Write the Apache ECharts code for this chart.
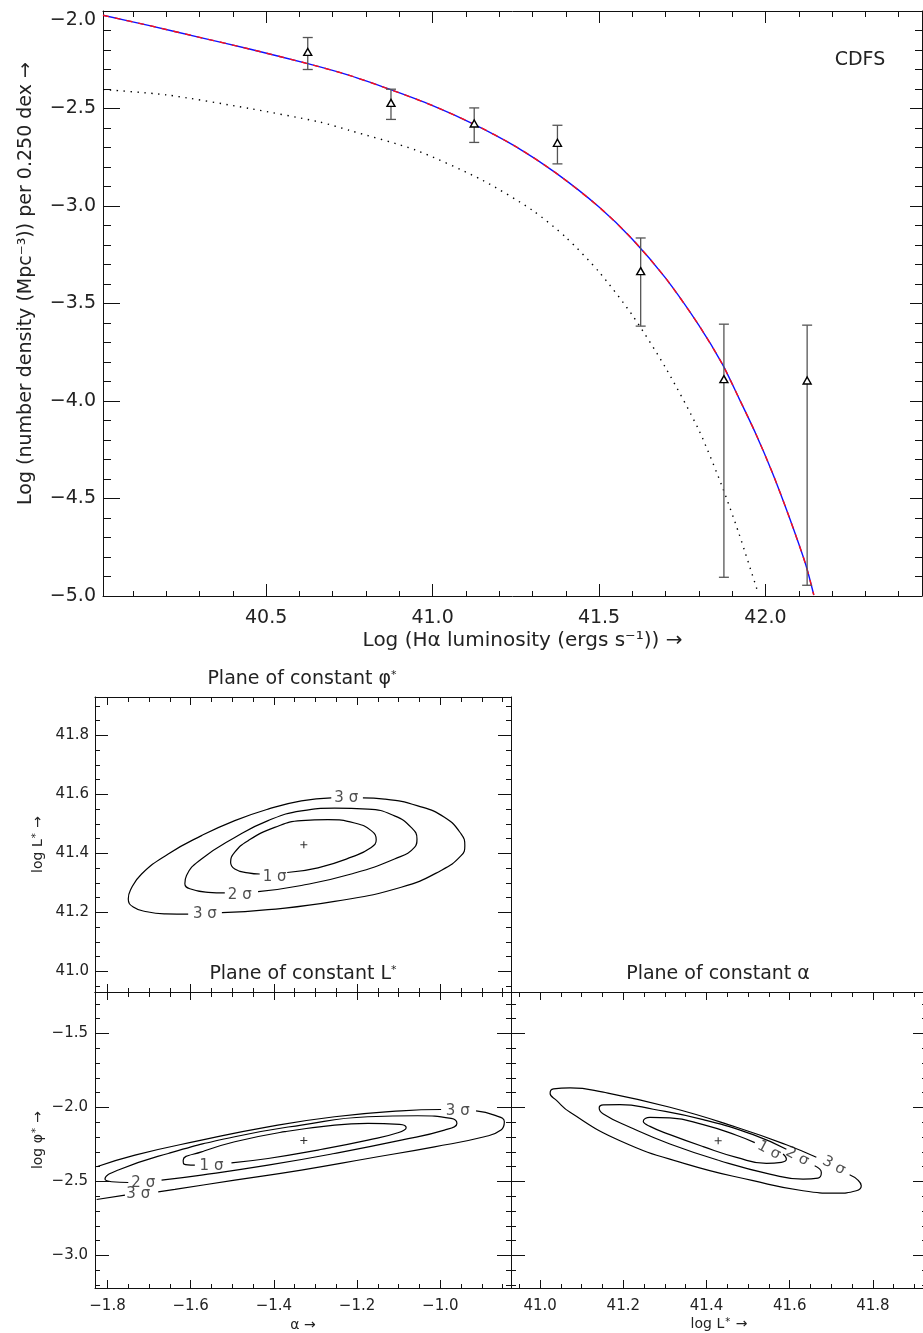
<!DOCTYPE html>
<html><head><meta charset="utf-8">
<script src="https://cdn.jsdelivr.net/npm/echarts@6/dist/echarts.min.js"></script>
<style>html,body{margin:0;padding:0;background:#fff}#c{width:923px;height:1333px}</style>
</head><body><div id="c"></div>
<script>
// ---------------- DATA ----------------
// Top panel: H-alpha luminosity function, CDFS
const binCentres = [40.625, 40.875, 41.125, 41.375, 41.625, 41.875, 42.125];
const logDensity = [-2.210, -2.471, -2.577, -2.676, -3.334, -3.888, -3.895];
const errUpper   = [-2.136, -2.401, -2.497, -2.586, -3.164, -3.606, -3.611];
const errLower   = [-2.300, -2.556, -2.674, -2.784, -3.616, -4.904, -4.945];

// best-fit Schechter curve
const fitLum     = [40.01, 40.15, 40.30, 40.45, 40.625, 40.75, 40.87, 41.00, 41.12, 41.25, 41.37, 41.50, 41.60, 41.70, 41.80, 41.87, 41.92, 41.97, 42.02, 42.07, 42.12, 42.145];
const fitDensity = [-2.022, -2.075, -2.135, -2.195, -2.270, -2.330, -2.401, -2.485, -2.577, -2.695, -2.830, -3.005, -3.170, -3.370, -3.612, -3.810, -3.985, -4.165, -4.365, -4.590, -4.835, -4.995];
// dotted comparison curve
const altLum     = [40.01, 40.20, 40.45, 40.66, 40.75, 40.95, 41.15, 41.30, 41.40, 41.50, 41.60, 41.70, 41.80, 41.87, 41.92, 41.975];
const altDensity = [-2.403, -2.430, -2.500, -2.569, -2.612, -2.714, -2.868, -3.022, -3.160, -3.338, -3.560, -3.830, -4.150, -4.440, -4.679, -4.970];

// tick values
const topXMajor = [40.5, 41.0, 41.5, 42.0];
const topXMinor = [40.1,40.2,40.3,40.4,40.5,40.6,40.7,40.8,40.9,41.0,41.1,41.2,41.3,41.4,41.5,41.6,41.7,41.8,41.9,42.0,42.1,42.2,42.3,42.4];
const topYMajor = [-5.0, -4.5, -4.0, -3.5, -3.0, -2.5, -2.0];
const topYMinor = [-4.9,-4.8,-4.7,-4.6,-4.5,-4.4,-4.3,-4.2,-4.1,-4.0,-3.9,-3.8,-3.7,-3.6,-3.5,-3.4,-3.3,-3.2,-3.1,-3.0,-2.9,-2.8,-2.7,-2.6,-2.5,-2.4,-2.3,-2.2,-2.1];
const alphaMajor = [-1.8, -1.6, -1.4, -1.2, -1.0];
const alphaMinor = [-1.80,-1.75,-1.70,-1.65,-1.60,-1.55,-1.50,-1.45,-1.40,-1.35,-1.30,-1.25,-1.20,-1.15,-1.10,-1.05,-1.00,-0.95,-0.90,-0.85];
const lstarMajor = [41.0, 41.2, 41.4, 41.6, 41.8];
const lstarMinor = [40.95,41.00,41.05,41.10,41.15,41.20,41.25,41.30,41.35,41.40,41.45,41.50,41.55,41.60,41.65,41.70,41.75,41.80,41.85,41.90];
const phiMajor = [-3.0, -2.5, -2.0, -1.5];
const phiMinor = [-3.2,-3.1,-3.0,-2.9,-2.8,-2.7,-2.6,-2.5,-2.4,-2.3,-2.2,-2.1,-2.0,-1.9,-1.8,-1.7,-1.6,-1.5,-1.4,-1.3];

// Contours, plane of constant phi*  [alpha, log L*]
const tlBest = [[-1.328, 41.429]];
const tl1 = [[-1.368,41.335],[-1.294,41.351],[-1.214,41.387],[-1.166,41.420],[-1.154,41.446],[-1.166,41.477],[-1.206,41.503],[-1.270,41.514],[-1.334,41.511],[-1.398,41.488],[-1.462,41.443],[-1.494,41.404],[-1.504,41.370],[-1.494,41.347],[-1.462,41.334],[-1.434,41.330]];
const tl2 = [[-1.438,41.270],[-1.334,41.291],[-1.214,41.330],[-1.110,41.381],[-1.062,41.420],[-1.056,41.449],[-1.070,41.488],[-1.110,41.527],[-1.174,41.550],[-1.254,41.553],[-1.334,41.544],[-1.414,41.511],[-1.494,41.454],[-1.574,41.381],[-1.610,41.325],[-1.614,41.297],[-1.602,41.280],[-1.558,41.268],[-1.518,41.266]];
const tl3a = [[-1.525,41.199],[-1.414,41.209],[-1.254,41.237],[-1.094,41.285],[-0.998,41.342],[-0.950,41.392],[-0.941,41.426],[-0.950,41.466],[-0.990,41.522],[-1.054,41.561],[-1.134,41.584],[-1.186,41.588]];
const tl3b = [[-1.262,41.588],[-1.334,41.578],[-1.414,41.550],[-1.494,41.511],[-1.574,41.460],[-1.654,41.398],[-1.718,41.330],[-1.745,41.275],[-1.750,41.245],[-1.738,41.218],[-1.705,41.202],[-1.660,41.195],[-1.606,41.194]];
const tlLabels = [[-1.398,41.321,'1 σ'],[-1.482,41.259,'2 σ'],[-1.226,41.587,'3 σ'],[-1.566,41.194,'3 σ']];

// Contours, plane of constant L*  [alpha, log phi*]
const blBest = [[-1.328, -2.223]];
const bl1 = [[-1.502,-2.374],[-1.414,-2.345],[-1.294,-2.288],[-1.174,-2.221],[-1.102,-2.171],[-1.082,-2.137],[-1.098,-2.115],[-1.174,-2.108],[-1.254,-2.119],[-1.374,-2.164],[-1.494,-2.232],[-1.574,-2.300],[-1.618,-2.356],[-1.616,-2.383],[-1.590,-2.390]];
const bl2 = [[-1.670,-2.491],[-1.574,-2.457],[-1.414,-2.390],[-1.254,-2.311],[-1.094,-2.221],[-0.990,-2.153],[-0.960,-2.108],[-0.974,-2.074],[-1.054,-2.056],[-1.174,-2.063],[-1.334,-2.119],[-1.494,-2.198],[-1.654,-2.311],[-1.774,-2.423],[-1.806,-2.484],[-1.790,-2.502],[-1.750,-2.507]];
const bl3a = [[-1.826,-2.401],[-1.734,-2.322],[-1.574,-2.221],[-1.414,-2.131],[-1.254,-2.063],[-1.094,-2.023],[-0.998,-2.014]];
const bl3b = [[-0.914,-2.023],[-0.870,-2.052],[-0.846,-2.097],[-0.854,-2.153],[-0.894,-2.198],[-1.014,-2.266],[-1.174,-2.345],[-1.334,-2.423],[-1.494,-2.491],[-1.638,-2.554],[-1.678,-2.570]];
const bl3c = [[-1.758,-2.592],[-1.826,-2.622]];
const blLabels = [[-1.550,-2.394,'1 σ'],[-1.714,-2.509,'2 σ'],[-0.958,-2.023,'3 σ'],[-1.726,-2.586,'3 σ']];

// Contours, plane of constant alpha  [log L*, log phi*]
const brBest = [[41.428, -2.225]];
const br1 = [[41.516,-2.238],[41.472,-2.188],[41.392,-2.116],[41.312,-2.071],[41.264,-2.067],[41.248,-2.094],[41.264,-2.128],[41.312,-2.184],[41.392,-2.265],[41.472,-2.337],[41.544,-2.378],[41.580,-2.371],[41.592,-2.349],[41.584,-2.315]];
const br2 = [[41.592,-2.283],[41.512,-2.184],[41.392,-2.082],[41.272,-2.012],[41.192,-1.981],[41.152,-1.983],[41.142,-2.003],[41.152,-2.044],[41.216,-2.134],[41.312,-2.247],[41.432,-2.360],[41.552,-2.450],[41.632,-2.484],[41.668,-2.477],[41.676,-2.439],[41.660,-2.394]];
const br3 = [[41.664,-2.337],[41.592,-2.252],[41.472,-2.134],[41.312,-1.999],[41.152,-1.897],[41.072,-1.868],[41.032,-1.875],[41.024,-1.904],[41.040,-1.954],[41.072,-2.033],[41.192,-2.225],[41.352,-2.383],[41.512,-2.495],[41.632,-2.563],[41.712,-2.579],[41.760,-2.563],[41.772,-2.529],[41.764,-2.491],[41.744,-2.455]];
const brLabels = [[41.550,-2.290,'1 σ'],[41.618,-2.333,'2 σ'],[41.706,-2.394,'3 σ']];

// ---------------- BUILD ----------------
const FONT = '"DejaVu Sans", "Liberation Sans", sans-serif';
const TXT = '#222';
const AX = '#111';
function fmt(v){ return (v < 0 ? '\u2212' : '') + Math.abs(v).toFixed(1); }
const supRich = { s: { fontSize: 10, verticalAlign: 'top', fontFamily: FONT, color: TXT, padding: [0, 1, 0, 1] } };

const grids = [], xAxes = [], yAxes = [], series = [];

function panel(rect, p) {
  const base = grids.length;
  for (let k = 0; k < 4; k++) grids.push(Object.assign({ show: false, containLabel: false, outerBoundsMode: 'none' }, rect));
  for (let k = 0; k < 4; k++) {
    const major = k % 2 === 0, far = k >= 2, side = far ? 1 : 0;
    const ls = { color: AX, width: 1 };
    const xa = {
      type: 'value', gridIndex: base + k, min: p.x.lo, max: p.x.hi, position: far ? 'top' : 'bottom',
      axisLine: { show: major, onZero: false, lineStyle: ls },
      axisTick: { show: true, inside: true, length: major ? p.x.majLen[side] : p.x.minLen[side], customValues: major ? p.x.maj : p.x.mnr, lineStyle: ls },
      axisLabel: { show: false }, splitLine: { show: false }, minorTick: { show: false }, silent: true
    };
    if (k === 0 && p.x.labels) {
      xa.axisLabel = { show: true, customValues: p.x.maj, formatter: fmt, margin: p.x.margin, fontSize: p.x.fs, fontFamily: FONT, color: TXT };
    }
    if (k === 0 && p.x.name) {
      xa.name = p.x.name; xa.nameLocation = 'middle'; xa.nameGap = p.x.nameGap;
      xa.nameTextStyle = Object.assign({ fontSize: p.x.nfs, fontFamily: FONT, color: TXT, rich: supRich }, p.x.nstyle || {});
    }
    xAxes.push(xa);
    const ya = {
      type: 'value', gridIndex: base + k, min: p.y.lo, max: p.y.hi, position: far ? 'right' : 'left',
      axisLine: { show: major, onZero: false, lineStyle: ls },
      axisTick: { show: true, inside: true, length: major ? p.y.majLen[side] : p.y.minLen[side], customValues: major ? p.y.maj : p.y.mnr, lineStyle: ls },
      axisLabel: { show: false }, splitLine: { show: false }, minorTick: { show: false }, silent: true
    };
    if (k === 0 && p.y.labels) {
      ya.axisLabel = Object.assign({ show: true, customValues: p.y.maj, formatter: fmt, margin: p.y.margin, fontSize: p.y.fs, fontFamily: FONT, color: TXT }, p.y.lstyle || {});
    }
    if (k === 0 && p.y.name) {
      ya.name = p.y.name; ya.nameLocation = 'middle'; ya.nameGap = p.y.nameGap; ya.nameRotate = 90;
      ya.nameTextStyle = Object.assign({ fontSize: p.y.nfs, fontFamily: FONT, color: TXT, rich: supRich }, p.y.nstyle || {});
    }
    yAxes.push(ya);
  }
  return base;
}

const gTop = panel({ left: 103, top: 11, width: 819, height: 585 }, {
  x: { lo: 40.01, hi: 42.47, maj: topXMajor, mnr: topXMinor, majLen: [12, 12], minLen: [5, 6], labels: true, margin: 13, fs: 19,
       name: 'Log (Hα luminosity (ergs s⁻¹)) →', nameGap: 35, nfs: 20, nstyle: { padding: [0, 0, 0, 20] } },
  y: { lo: -5, hi: -2, maj: topYMajor, mnr: topYMinor, majLen: [17, 12], minLen: [8, 7], labels: true, margin: 7, fs: 19,
       lstyle: { verticalAlignMaxLabel: 'top' },
       name: 'Log (number density (Mpc⁻³)) per 0.250 dex →', nameGap: 67, nfs: 19, nstyle: { padding: [0, 0, 0, 40] } }
});
const gTL = panel({ left: 95, top: 697, width: 416, height: 295 }, {
  x: { lo: -1.83, hi: -0.83, maj: alphaMajor, mnr: alphaMinor, majLen: [8, 8], minLen: [4, 5], labels: false },
  y: { lo: 40.93, hi: 41.93, maj: lstarMajor, mnr: lstarMinor, majLen: [13, 13], minLen: [5, 5], labels: true, margin: 6, fs: 15,
       name: 'log L{s|*} →', nameGap: 50, nfs: 14 }
});
const gBL = panel({ left: 95, top: 992, width: 416, height: 296 }, {
  x: { lo: -1.83, hi: -0.83, maj: alphaMajor, mnr: alphaMinor, majLen: [8, 8], minLen: [4, 5], labels: true, margin: 11, fs: 15,
       name: 'α →', nameGap: 30, nfs: 14 },
  y: { lo: -3.22, hi: -1.22, maj: phiMajor, mnr: phiMinor, majLen: [14, 14], minLen: [5, 5], labels: true, margin: 7, fs: 15,
       name: 'log φ{s|*} →', nameGap: 50, nfs: 14 }
});
const gBR = panel({ left: 511, top: 992, width: 416, height: 296 }, {
  x: { lo: 40.93, hi: 41.93, maj: lstarMajor, mnr: lstarMinor, majLen: [8, 8], minLen: [4, 5], labels: true, margin: 11, fs: 15,
       name: 'log L{s|*} →', nameGap: 29, nfs: 14 },
  y: { lo: -3.22, hi: -1.22, maj: phiMajor, mnr: phiMinor, majLen: [14, 14], minLen: [5, 5], labels: false }
});

// --- top panel series
series.push({ type: 'line', xAxisIndex: gTop, yAxisIndex: gTop, data: altLum.map((x, i) => [x, altDensity[i]]),
  showSymbol: false, smooth: 0.25, lineStyle: { color: '#000', width: 1.4, type: [1.4, 5.5] }, z: 2 });
series.push({ type: 'line', xAxisIndex: gTop, yAxisIndex: gTop, data: fitLum.map((x, i) => [x, fitDensity[i]]),
  showSymbol: false, smooth: 0.25, lineStyle: { color: '#1010ff', width: 1.4 }, z: 2 });
series.push({ type: 'line', xAxisIndex: gTop, yAxisIndex: gTop, data: fitLum.map((x, i) => [x, fitDensity[i]]),
  showSymbol: false, smooth: 0.25, lineStyle: { color: '#ff1010', width: 1.4, type: [6, 6] }, z: 3 });
series.push({ type: 'custom', xAxisIndex: gTop, yAxisIndex: gTop, z: 4,
  data: binCentres.map((x, i) => [x, errLower[i], errUpper[i]]),
  encode: { x: 0, y: [1, 2] },
  renderItem: function (params, api) {
    const x = api.value(0);
    const lo = api.coord([x, api.value(1)]);
    const hi = api.coord([x, api.value(2)]);
    const w = 5, st = { stroke: '#555', lineWidth: 1.3 };
    return { type: 'group', children: [
      { type: 'line', shape: { x1: lo[0], y1: lo[1], x2: hi[0], y2: hi[1] }, style: st },
      { type: 'line', shape: { x1: lo[0] - w, y1: lo[1], x2: lo[0] + w, y2: lo[1] }, style: st },
      { type: 'line', shape: { x1: hi[0] - w, y1: hi[1], x2: hi[0] + w, y2: hi[1] }, style: st }
    ] };
  }
});
series.push({ type: 'scatter', xAxisIndex: gTop, yAxisIndex: gTop, z: 5,
  data: binCentres.map((x, i) => [x, logDensity[i]]),
  symbol: 'triangle', symbolSize: [8, 7], itemStyle: { color: '#fff', borderColor: '#000', borderWidth: 1.4, opacity: 1 } });

// --- contour panels
function contour(g, data) {
  series.push({ type: 'line', xAxisIndex: g, yAxisIndex: g, data: data, showSymbol: false, smooth: 0.5,
    lineStyle: { color: '#000', width: 1.2 }, clip: true, z: 2 });
}
function bestFit(g, data) {
  series.push({ type: 'scatter', xAxisIndex: g, yAxisIndex: g, data: data, symbol: 'path://M0,4L8,4M4,0L4,8',
    symbolSize: 7, itemStyle: { color: 'none', borderColor: '#000', borderWidth: 1.1 }, z: 3 });
}
function sigmaLabels(g, data, rot) {
  series.push({ type: 'scatter', xAxisIndex: g, yAxisIndex: g, data: data, symbolSize: 1,
    itemStyle: { color: 'rgba(0,0,0,0)' }, z: 4,
    label: { show: true, position: 'inside', formatter: p => p.data[2], fontSize: 15, fontFamily: FONT, color: TXT, rotate: rot || 0 } });
}
[tl1, tl2, tl3a, tl3b].forEach(d => contour(gTL, d));
bestFit(gTL, tlBest); sigmaLabels(gTL, tlLabels, 0);
[bl1, bl2, bl3a, bl3b, bl3c].forEach(d => contour(gBL, d));
bestFit(gBL, blBest); sigmaLabels(gBL, blLabels, 0);
[br1, br2, br3].forEach(d => contour(gBR, d));
bestFit(gBR, brBest); sigmaLabels(gBR, brLabels, -28);

const titleStyle = { fontSize: 19, fontWeight: 'normal', fontFamily: FONT, color: TXT,
  rich: { s: { fontSize: 11, verticalAlign: 'top', fontFamily: FONT, color: TXT } } };
const titles = [
  { text: 'CDFS', left: 860, top: 51, textAlign: 'center', textStyle: titleStyle },
  { text: 'Plane of constant φ{s|*}', left: 302, top: 670, textAlign: 'center', textStyle: titleStyle },
  { text: 'Plane of constant L{s|*}', left: 303, top: 965, textAlign: 'center', textStyle: titleStyle },
  { text: 'Plane of constant α', left: 718, top: 965, textAlign: 'center', textStyle: titleStyle }
].map(t => Object.assign({ padding: 0, itemGap: 0 }, t));

const chart = echarts.init(document.getElementById('c'), null, { renderer: 'canvas' });
chart.setOption({
  animation: false,
  backgroundColor: '#fff',
  title: titles,
  grid: grids,
  xAxis: xAxes,
  yAxis: yAxes,
  series: series
});
</script>
</body></html>
